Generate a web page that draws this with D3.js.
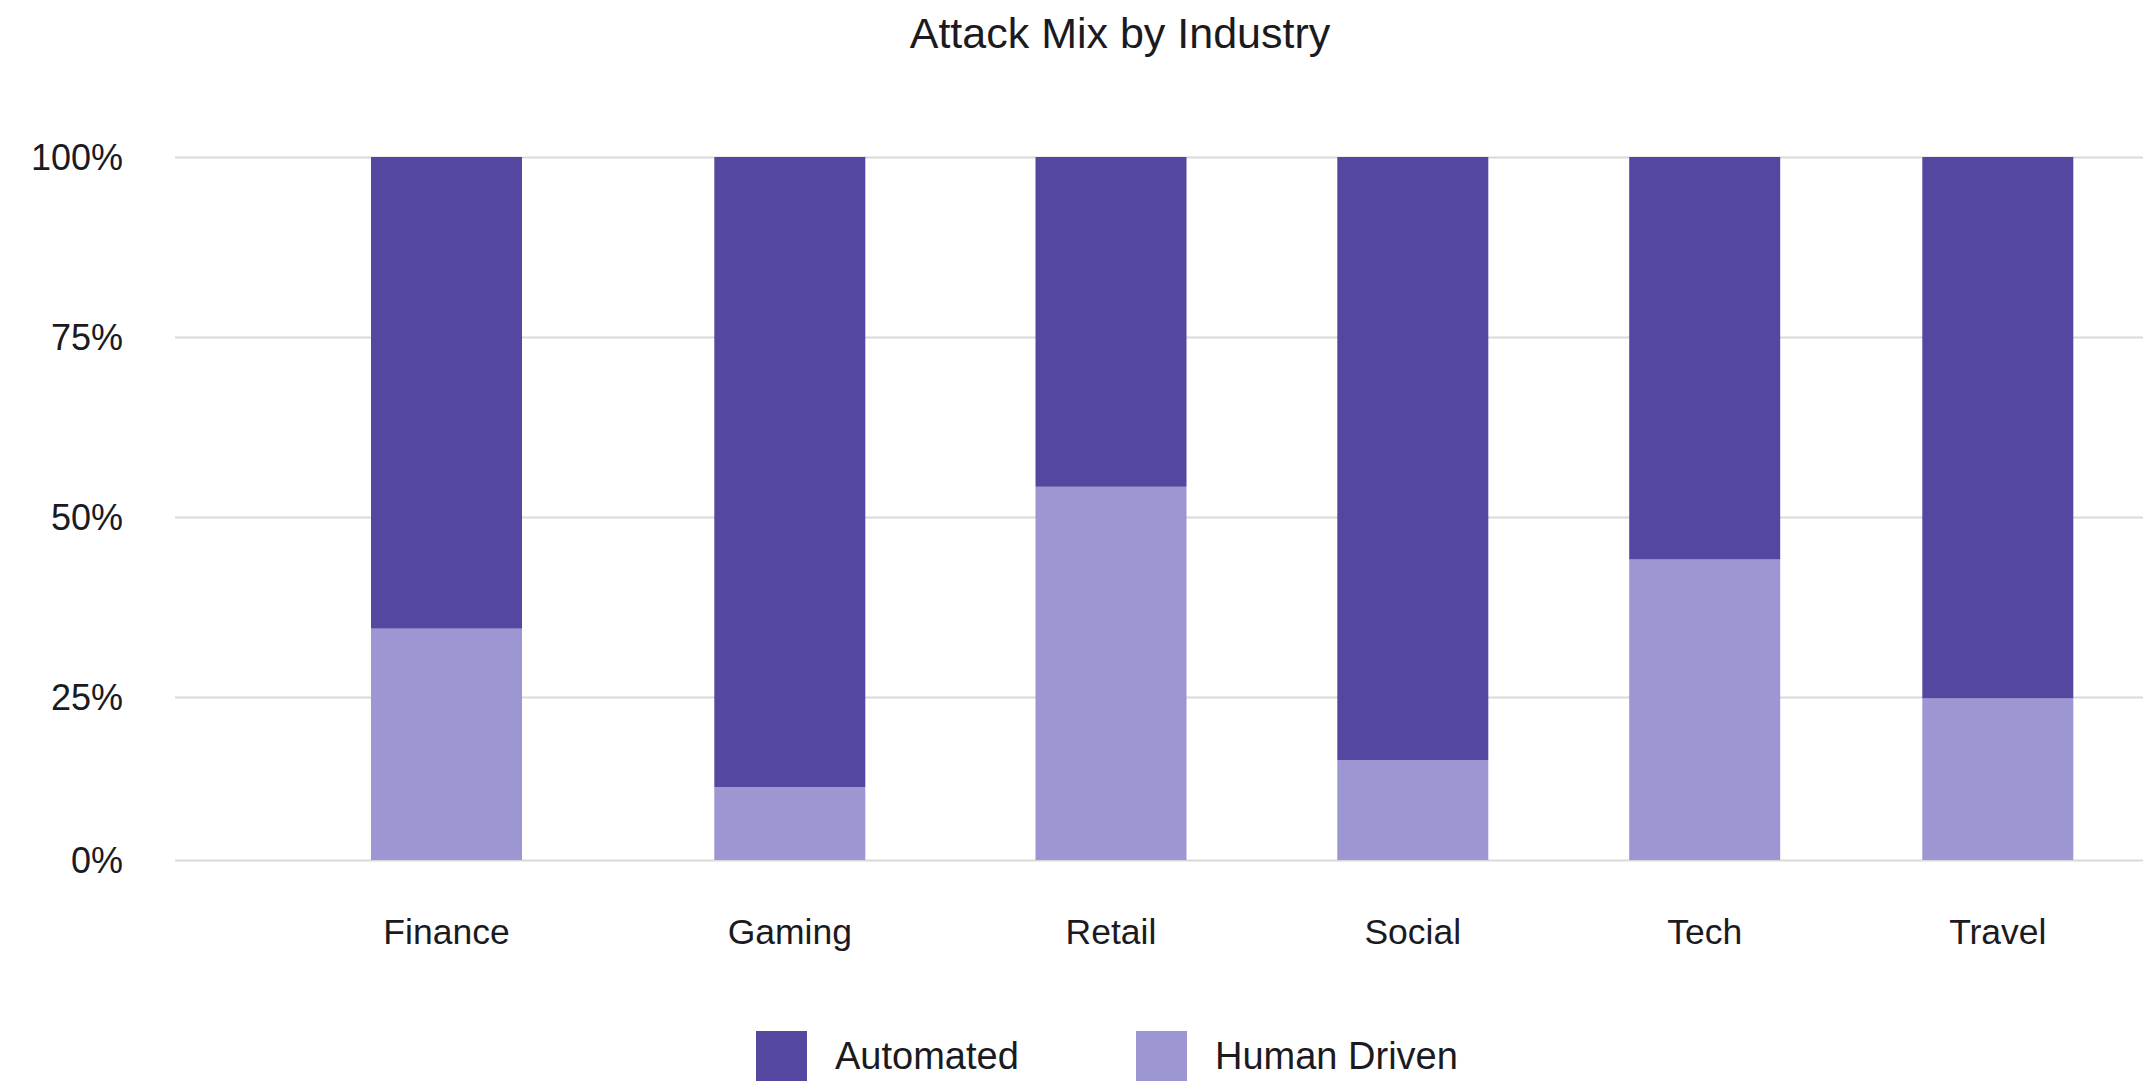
<!DOCTYPE html>
<html>
<head>
<meta charset="utf-8">
<script src="https://cdn.jsdelivr.net/npm/d3@7"></script>
<style>
  html, body { margin: 0; padding: 0; background: #ffffff; }
  svg { display: block; }
  text { font-family: "Liberation Sans", Arial, Helvetica, sans-serif; fill: #1b1b1f; }
</style>
</head>
<body>
<script>
// Attack mix by industry: share of automated vs human-driven attacks (percent)
const categories = ["Finance", "Gaming", "Retail", "Social", "Tech", "Travel"];
const humanDriven = [34.5, 11.2, 54.2, 15.3, 44.1, 24.8];
const automated = [65.5, 88.8, 45.8, 84.7, 55.9, 75.2];
const seriesNames = ["Automated", "Human Driven"];
const tickValues = [0, 25, 50, 75, 100];
const tickLabels = ["0%", "25%", "50%", "75%", "100%"];

const W = 2143, H = 1081;
const colors = { "Automated": "#5347a0", "Human Driven": "#9c96d3" };

const svg = d3.select("body").append("svg")
  .attr("width", W).attr("height", H);

// Vertical scale: the bottom band is slightly shorter than the others
const y = d3.scaleLinear()
  .domain([0, 25, 50, 75, 100])
  .range([860, 697, 517, 337, 157]);

// Horizontal placement of each industry column (centre of the bar)
const x = d3.scaleOrdinal()
  .domain(categories)
  .range([446.5, 789.8, 1111, 1412.8, 1704.7, 1997.8]);
const barWidth = 151;

const gridLeft = 175, gridRight = W;

// Title
svg.append("text")
  .attr("x", 1120).attr("y", 48)
  .attr("text-anchor", "middle")
  .style("font-size", "43px")
  .text("Attack Mix by Industry");

// Gridlines and tick labels
const yAxis = d3.axisLeft(y)
  .tickValues(tickValues)
  .tickSize(-(gridRight - gridLeft))
  .tickPadding(52)
  .tickFormat((d, i) => tickLabels[i]);

const gAxis = svg.append("g")
  .attr("transform", `translate(${gridLeft},0)`)
  .call(yAxis);
gAxis.select(".domain").remove();
gAxis.selectAll(".tick line")
  .attr("stroke", "#d9d9d9")
  .attr("stroke-width", 2);
gAxis.selectAll(".tick text")
  .style("font-size", "36px")
  .attr("fill", "#1b1b1f")
  .attr("dy", "0.36em");

// Stacked bars: human-driven at the bottom, automated on top
const rows = categories.map((c, i) => ({ category: c, "Human Driven": humanDriven[i], "Automated": automated[i] }));
const stack = d3.stack().keys(["Human Driven", "Automated"]);
const layers = stack(rows);

svg.append("g").selectAll("g")
  .data(layers)
  .join("g")
  .attr("fill", d => colors[d.key])
  .selectAll("rect")
  .data(d => d)
  .join("rect")
  .attr("x", d => x(d.data.category) - barWidth / 2)
  .attr("width", barWidth)
  .attr("y", d => y(d[1]))
  .attr("height", d => y(d[0]) - y(d[1]));

// Category labels
svg.append("g").selectAll("text")
  .data(categories)
  .join("text")
  .attr("x", d => x(d))
  .attr("y", 944)
  .attr("text-anchor", "middle")
  .style("font-size", "35.5px")
  .text(d => d);

// Legend
const legend = svg.append("g").attr("transform", "translate(756,1031)");
const item = legend.selectAll("g")
  .data(seriesNames)
  .join("g")
  .attr("transform", (d, i) => `translate(${i * 380},0)`);
item.append("rect")
  .attr("width", 51).attr("height", 51)
  .attr("fill", d => colors[d]);
item.append("text")
  .attr("x", 79).attr("y", 38)
  .style("font-size", "38px")
  .text(d => d);
</script>
</body>
</html>
